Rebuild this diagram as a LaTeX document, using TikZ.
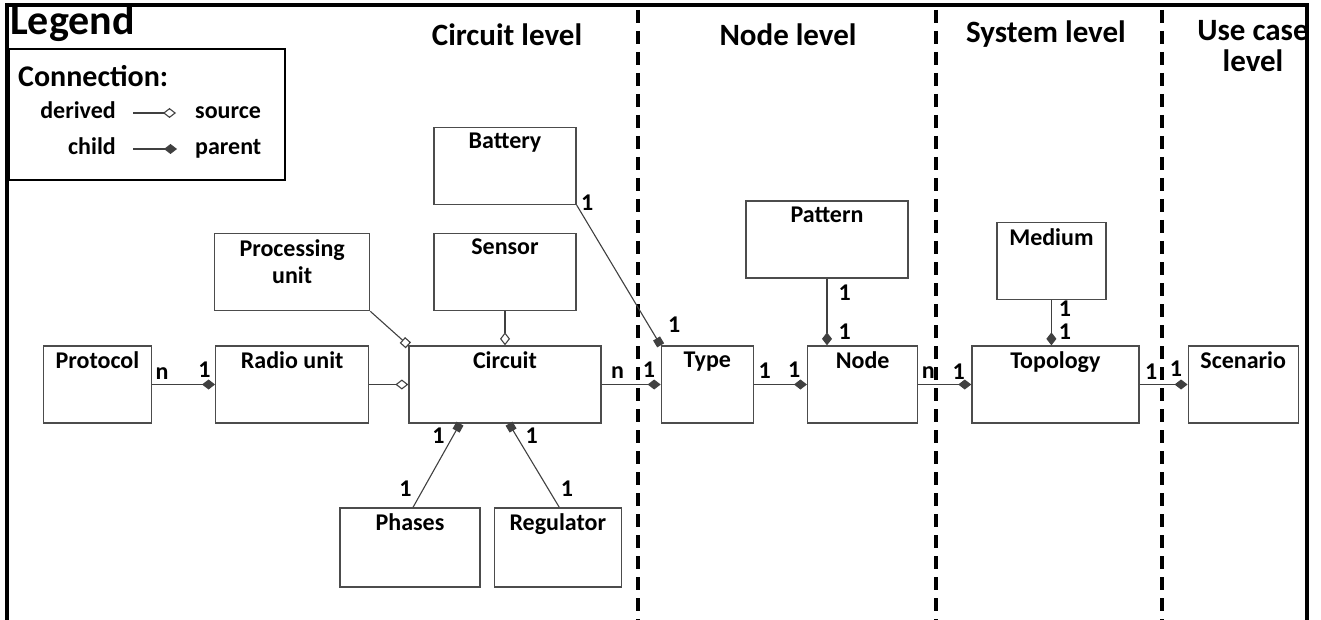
\documentclass[tikz,border=0pt]{standalone}
\usepackage{fontspec}
\setmainfont{Carlito}
\usetikzlibrary{arrows.meta,positioning}

\tikzset{
  cls/.style={draw=black!70, line width=1.3pt, minimum height=77pt, inner sep=0pt,
    label={[lbl]north:#1}},
  lbl/.style={anchor=north, yshift=-6pt, inner sep=0pt, align=center,
    font=\bfseries\fontsize{24}{27}\selectfont},
  head/.style={inner sep=0pt, align=center, font=\bfseries\fontsize{31}{31}\selectfont},
  legtxt/.style={inner sep=0pt, text height=16pt, text depth=5pt,
    font=\bfseries\fontsize{24}{24}\selectfont},
  mult/.style={inner sep=0pt, text height=15pt, text depth=0pt,
    font=\bfseries\fontsize{24}{24}\selectfont},
  link/.style={draw=black!75, line width=1.1pt},
  comp/.style={link, -{Diamond[length=13pt,width=10pt]}},
  deriv/.style={link, -{Diamond[open,length=13pt,width=10pt]}},
  sqcomp/.style={link, -{Square[length=8pt,width=8pt]}},
  sqderiv/.style={link, -{Square[open,length=8pt,width=8pt]}},
  divider/.style={line width=3.5pt, dash pattern=on 13pt off 8pt}
}

\begin{document}
\begin{tikzpicture}[x=1pt, y=-1pt]
  \useasboundingbox (0,0) rectangle (1321,620);
  % frame and level borders
  \draw[line width=3.5pt] (7,620) -- (7,5) -- (1307,5) -- (1307,620);
  \foreach \x in {638,936,1162}
    \draw[divider] (\x,10) -- (\x,620);

  % level titles
  \node[head] (tcircuit) at (507,35) {Circuit level};
  \node[head] (tnode) at (788,35) {Node level};
  \node[head] (tsystem) at (1046,34) {System level};
  \node[head, anchor=north] (tusecase) at (1253,20) {Use case\\level};

  % legend
  \node[anchor=base west, inner sep=0pt, font=\bfseries\fontsize{42}{42}\selectfont]
    (legend) at (10,35) {Legend};
  \draw[line width=2.2pt] (9,49) rectangle (285,180);
  \node[anchor=base west, inner sep=0pt, font=\bfseries\fontsize{30}{30}\selectfont]
    (conn) at (18,87) {Connection:};
  \node[legtxt, anchor=east] (derived) at (116,113) {derived};
  \node[legtxt, anchor=west] (source) at (195,113) {source};
  \node[legtxt, anchor=east] (child) at (116,149) {child};
  \node[legtxt, anchor=west] (parent) at (195,149) {parent};
  \draw[deriv, shorten <=17pt, shorten >=19pt] (derived) -- (source);
  \draw[comp, shorten <=17pt, shorten >=18pt] (child) -- (parent);

  % circuit level
  \node[cls=Circuit, minimum width=192pt] (circuit) at (505,384.5) {};
  \node[cls={Radio unit}, minimum width=153pt, left=39pt of circuit] (radio) {};
  \node[cls=Protocol, minimum width=108pt, left=63pt of radio] (protocol) {};
  \node[cls={Processing\\unit}, minimum width=155pt, above=34pt of radio] (procunit) {};
  \node[cls=Sensor, minimum width=142pt, above=34pt of circuit] (sensor) {};
  \node[cls=Battery, minimum width=142pt, above=28pt of sensor] (battery) {};
  \node[cls=Phases, minimum width=140pt, minimum height=79pt] (phases) at (410,547.5) {};
  \node[cls=Regulator, minimum width=127pt, minimum height=79pt, right=13pt of phases] (regulator) {};

  % node level
  \node[cls=Type, minimum width=92pt, right=59pt of circuit] (type) {};
  \node[cls=Node, minimum width=110pt, right=53pt of type] (netnode) {};
  \node[cls=Pattern, minimum width=162pt] (pattern) at (827,239.5) {};

  % system and use case level
  \node[cls=Topology, minimum width=167pt, right=53pt of netnode] (topology) {};
  \node[cls=Medium, minimum width=109pt, above=45pt of topology, xshift=-4pt] (medium) {};
  \node[cls=Scenario, minimum width=110pt, right=48pt of topology] (scenario) {};

  \path
    (protocol) edge[comp]
      node[mult, at start, anchor=base west, xshift=3pt, yshift=5pt] (m1) {n}
      node[mult, at end, anchor=base east, xshift=-4pt, yshift=7pt] (m2) {1} (radio)
    (radio) edge[deriv] (circuit)
    (procunit.south east) edge[sqderiv] (circuit.north west)
    (sensor) edge[deriv] (circuit)
    (battery.south east) edge[sqcomp]
      node[mult, at start, anchor=base west, xshift=4pt, yshift=-5pt] (m3) {1}
      node[mult, at end, anchor=base west, xshift=7pt, yshift=13pt] (m4) {1} (type.north west)
    ([xshift=3pt]phases.north) edge[sqcomp]
      node[mult, at start, anchor=base east, xshift=-1pt, yshift=11pt] (m5) {1}
      node[mult, at end, anchor=base east, xshift=-15pt, yshift=-20pt] (m6) {1} ([xshift=-45pt]circuit.south)
    ([xshift=1.5pt]regulator.north) edge[sqcomp]
      node[mult, at start, anchor=base west, xshift=1pt, yshift=11pt] (m7) {1}
      node[mult, at end, anchor=base west, xshift=16pt, yshift=-20pt] (m8) {1} ([xshift=4pt]circuit.south)
    (circuit) edge[comp]
      node[mult, at start, anchor=base west, xshift=9pt, yshift=6pt] (m9) {n}
      node[mult, at end, anchor=base east, xshift=-5pt, yshift=7pt] (m10) {1} (type)
    (type) edge[comp]
      node[mult, at start, anchor=base west, xshift=4pt, yshift=6pt] (m11) {1}
      node[mult, at end, anchor=base east, xshift=-6pt, yshift=7pt] (m12) {1} (netnode)
    (pattern.south) edge[comp]
      node[mult, at start, anchor=base west, xshift=11pt, yshift=-22pt] (m13) {1}
      node[mult, at end, anchor=base west, xshift=11pt, yshift=6pt] (m14) {1} (pattern.south |- netnode.north)
    (netnode) edge[comp]
      node[mult, at start, anchor=base west, xshift=3pt, yshift=6pt] (m15) {n}
      node[mult, at end, anchor=base east, xshift=-6pt, yshift=5pt] (m16) {1} (topology)
    (medium.south) edge[comp]
      node[mult, at start, anchor=base west, xshift=7pt, yshift=-16pt] (m17) {1}
      node[mult, at end, anchor=base west, xshift=7pt, yshift=5.5pt] (m18) {1} (medium.south |- topology.north)
    (topology) edge[comp]
      node[mult, at start, anchor=base west, xshift=5pt, yshift=5pt] (m19) {1}
      node[mult, at end, anchor=base east, xshift=-5pt, yshift=8pt] (m20) {1} (scenario)
    ;
\end{tikzpicture}
\end{document}
